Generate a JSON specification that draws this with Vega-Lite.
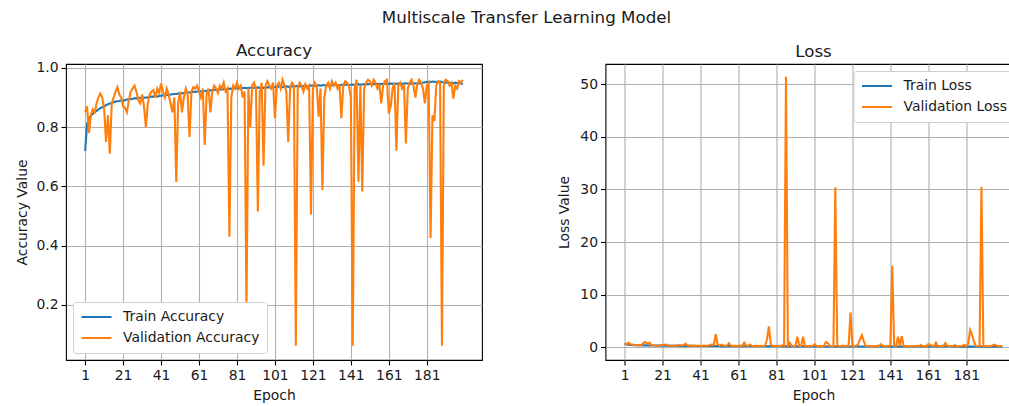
{
  "$schema": "https://vega.github.io/schema/vega-lite/v6.json",
  "background": "white",
  "padding": {"left": 14, "top": 10, "right": -13, "bottom": 0},
  "title": {"text": "Multiscale Transfer Learning Model", "fontSize": 16.7, "fontWeight": "normal", "anchor": "middle", "color": "#1a1a1a", "offset": 15, "dx": 8},
  "config": {
    "font": "DejaVu Sans",
    "view": {"stroke": "black", "strokeWidth": 1.1},
    "axis": {"grid": true, "gridColor": "#b0b0b0", "gridWidth": 1.1, "domain": false, "tickColor": "black", "tickSize": 5, "tickWidth": 1.1, "labelFontSize": 13.9, "labelColor": "#1a1a1a", "titleFontSize": 13.9, "titleFontWeight": "normal", "titleColor": "#1a1a1a", "labelPadding": 3, "labelFlush": false},
    "legend": {"symbolType": "stroke", "symbolStrokeWidth": 2.1, "symbolSize": 900, "clipHeight": 16, "labelFontSize": 13.9, "labelColor": "#1a1a1a", "strokeColor": "#d0d0d0", "fillColor": "white", "padding": 7, "cornerRadius": 3, "rowPadding": 5, "offset": 7, "labelOffset": 10, "labelLimit": 300, "title": null},
    "title": {"fontSize": 16.7, "fontWeight": "normal", "color": "#1a1a1a"},
    "line": {"strokeWidth": 2.1}
  },
  "data": {"values": [
{"e":1,"ta":0.72,"va":0.85,"tl":0.75,"vl":0.75},{"e":2,"ta":0.81,"va":0.87,"tl":0.55,"vl":0.6},{"e":3,"ta":0.83,"va":0.78,"tl":0.5,"vl":0.9},{"e":4,"ta":0.838,"va":0.84,"tl":0.47,"vl":0.6},{"e":5,"ta":0.845,"va":0.86,"tl":0.45,"vl":0.55},{"e":6,"ta":0.85,"va":0.85,"tl":0.43,"vl":0.5},{"e":7,"ta":0.855,"va":0.88,"tl":0.42,"vl":0.45},{"e":8,"ta":0.86,"va":0.9,"tl":0.41,"vl":0.4},{"e":9,"ta":0.864,"va":0.913,"tl":0.4,"vl":0.35},{"e":10,"ta":0.867,"va":0.9,"tl":0.39,"vl":0.45},
{"e":11,"ta":0.87,"va":0.86,"tl":0.38,"vl":0.9},{"e":12,"ta":0.874,"va":0.75,"tl":0.38,"vl":1.0},{"e":13,"ta":0.877,"va":0.84,"tl":0.37,"vl":0.7},{"e":14,"ta":0.88,"va":0.71,"tl":0.36,"vl":0.9},{"e":15,"ta":0.882,"va":0.88,"tl":0.36,"vl":0.5},{"e":16,"ta":0.884,"va":0.9,"tl":0.35,"vl":0.4},{"e":17,"ta":0.886,"va":0.92,"tl":0.35,"vl":0.3},{"e":18,"ta":0.887,"va":0.935,"tl":0.34,"vl":0.25},{"e":19,"ta":0.888,"va":0.91,"tl":0.34,"vl":0.35},{"e":20,"ta":0.89,"va":0.9,"tl":0.33,"vl":0.4},
{"e":21,"ta":0.889,"va":0.87,"tl":0.33,"vl":0.45},{"e":22,"ta":0.891,"va":0.865,"tl":0.32,"vl":0.5},{"e":23,"ta":0.893,"va":0.85,"tl":0.32,"vl":0.55},{"e":24,"ta":0.894,"va":0.89,"tl":0.31,"vl":0.4},{"e":25,"ta":0.894,"va":0.92,"tl":0.31,"vl":0.3},{"e":26,"ta":0.896,"va":0.93,"tl":0.31,"vl":0.3},{"e":27,"ta":0.897,"va":0.94,"tl":0.3,"vl":0.25},{"e":28,"ta":0.897,"va":0.92,"tl":0.3,"vl":0.35},{"e":29,"ta":0.898,"va":0.89,"tl":0.3,"vl":0.4},{"e":30,"ta":0.899,"va":0.88,"tl":0.29,"vl":0.45},
{"e":31,"ta":0.899,"va":0.91,"tl":0.29,"vl":0.35},{"e":32,"ta":0.9,"va":0.87,"tl":0.29,"vl":0.4},{"e":33,"ta":0.899,"va":0.8,"tl":0.29,"vl":0.7},{"e":34,"ta":0.901,"va":0.88,"tl":0.28,"vl":0.4},{"e":35,"ta":0.902,"va":0.91,"tl":0.28,"vl":0.3},{"e":36,"ta":0.903,"va":0.92,"tl":0.28,"vl":0.3},{"e":37,"ta":0.903,"va":0.925,"tl":0.28,"vl":0.28},{"e":38,"ta":0.904,"va":0.9,"tl":0.27,"vl":0.35},{"e":39,"ta":0.903,"va":0.93,"tl":0.27,"vl":0.3},{"e":40,"ta":0.905,"va":0.915,"tl":0.27,"vl":0.32},
{"e":41,"ta":0.906,"va":0.947,"tl":0.27,"vl":0.25},{"e":42,"ta":0.907,"va":0.92,"tl":0.26,"vl":0.3},{"e":43,"ta":0.908,"va":0.9,"tl":0.26,"vl":0.35},{"e":44,"ta":0.908,"va":0.93,"tl":0.26,"vl":0.3},{"e":45,"ta":0.909,"va":0.91,"tl":0.26,"vl":0.35},{"e":46,"ta":0.91,"va":0.88,"tl":0.26,"vl":0.45},{"e":47,"ta":0.911,"va":0.85,"tl":0.25,"vl":0.55},{"e":48,"ta":0.912,"va":0.9,"tl":0.25,"vl":0.5},{"e":49,"ta":0.912,"va":0.615,"tl":0.25,"vl":2.5},{"e":50,"ta":0.913,"va":0.88,"tl":0.25,"vl":0.6},
{"e":51,"ta":0.914,"va":0.92,"tl":0.25,"vl":0.3},{"e":52,"ta":0.914,"va":0.85,"tl":0.24,"vl":0.5},{"e":53,"ta":0.915,"va":0.9,"tl":0.24,"vl":0.35},{"e":54,"ta":0.916,"va":0.93,"tl":0.24,"vl":0.3},{"e":55,"ta":0.917,"va":0.91,"tl":0.24,"vl":0.35},{"e":56,"ta":0.917,"va":0.767,"tl":0.24,"vl":0.8},{"e":57,"ta":0.918,"va":0.92,"tl":0.23,"vl":0.3},{"e":58,"ta":0.919,"va":0.935,"tl":0.23,"vl":0.28},{"e":59,"ta":0.919,"va":0.93,"tl":0.23,"vl":0.3},{"e":60,"ta":0.92,"va":0.94,"tl":0.23,"vl":0.25},
{"e":61,"ta":0.92,"va":0.92,"tl":0.23,"vl":0.3},{"e":62,"ta":0.921,"va":0.9,"tl":0.23,"vl":0.35},{"e":63,"ta":0.922,"va":0.93,"tl":0.22,"vl":0.3},{"e":64,"ta":0.921,"va":0.74,"tl":0.22,"vl":0.9},{"e":65,"ta":0.923,"va":0.91,"tl":0.22,"vl":0.35},{"e":66,"ta":0.924,"va":0.93,"tl":0.22,"vl":0.3},{"e":67,"ta":0.924,"va":0.85,"tl":0.22,"vl":0.55},{"e":68,"ta":0.925,"va":0.92,"tl":0.22,"vl":0.3},{"e":69,"ta":0.925,"va":0.94,"tl":0.21,"vl":0.25},{"e":70,"ta":0.926,"va":0.93,"tl":0.21,"vl":0.28},
{"e":71,"ta":0.926,"va":0.915,"tl":0.21,"vl":0.3},{"e":72,"ta":0.927,"va":0.94,"tl":0.21,"vl":0.25},{"e":73,"ta":0.927,"va":0.93,"tl":0.21,"vl":0.28},{"e":74,"ta":0.928,"va":0.95,"tl":0.21,"vl":0.22},{"e":75,"ta":0.928,"va":0.92,"tl":0.21,"vl":0.35},{"e":76,"ta":0.929,"va":0.93,"tl":0.2,"vl":1.5},{"e":77,"ta":0.929,"va":0.43,"tl":0.2,"vl":4.0},{"e":78,"ta":0.93,"va":0.9,"tl":0.2,"vl":0.5},{"e":79,"ta":0.93,"va":0.94,"tl":0.2,"vl":0.25},{"e":80,"ta":0.931,"va":0.93,"tl":0.2,"vl":0.3},
{"e":81,"ta":0.931,"va":0.95,"tl":0.2,"vl":0.22},{"e":82,"ta":0.932,"va":0.93,"tl":0.2,"vl":0.28},{"e":83,"ta":0.93,"va":0.94,"tl":0.2,"vl":0.25},{"e":84,"ta":0.932,"va":0.9,"tl":0.2,"vl":0.4},{"e":85,"ta":0.933,"va":0.92,"tl":0.19,"vl":0.3},{"e":86,"ta":0.931,"va":0.18,"tl":0.19,"vl":51.4},{"e":87,"ta":0.932,"va":0.93,"tl":0.19,"vl":0.3},{"e":88,"ta":0.933,"va":0.8,"tl":0.19,"vl":0.9},{"e":89,"ta":0.934,"va":0.94,"tl":0.19,"vl":0.25},{"e":90,"ta":0.932,"va":0.95,"tl":0.19,"vl":0.22},
{"e":91,"ta":0.933,"va":0.93,"tl":0.19,"vl":0.3},{"e":92,"ta":0.934,"va":0.515,"tl":0.19,"vl":2.0},{"e":93,"ta":0.933,"va":0.92,"tl":0.19,"vl":0.3},{"e":94,"ta":0.934,"va":0.95,"tl":0.18,"vl":0.25},{"e":95,"ta":0.932,"va":0.67,"tl":0.18,"vl":2.0},{"e":96,"ta":0.934,"va":0.94,"tl":0.18,"vl":0.3},{"e":97,"ta":0.935,"va":0.955,"tl":0.18,"vl":0.22},{"e":98,"ta":0.934,"va":0.94,"tl":0.18,"vl":0.25},{"e":99,"ta":0.935,"va":0.93,"tl":0.18,"vl":0.3},{"e":100,"ta":0.936,"va":0.95,"tl":0.18,"vl":0.22},
{"e":101,"ta":0.935,"va":0.83,"tl":0.18,"vl":0.6},{"e":102,"ta":0.936,"va":0.94,"tl":0.18,"vl":0.25},{"e":103,"ta":0.936,"va":0.95,"tl":0.18,"vl":0.22},{"e":104,"ta":0.937,"va":0.93,"tl":0.18,"vl":0.3},{"e":105,"ta":0.935,"va":0.96,"tl":0.18,"vl":0.2},{"e":106,"ta":0.937,"va":0.94,"tl":0.17,"vl":0.25},{"e":107,"ta":0.938,"va":0.92,"tl":0.17,"vl":1.0},{"e":108,"ta":0.936,"va":0.75,"tl":0.17,"vl":0.8},{"e":109,"ta":0.937,"va":0.93,"tl":0.17,"vl":0.3},{"e":110,"ta":0.938,"va":0.95,"tl":0.17,"vl":0.22},
{"e":111,"ta":0.937,"va":0.94,"tl":0.17,"vl":0.25},{"e":112,"ta":0.938,"va":0.062,"tl":0.17,"vl":30.4},{"e":113,"ta":0.939,"va":0.93,"tl":0.17,"vl":0.3},{"e":114,"ta":0.937,"va":0.95,"tl":0.17,"vl":0.22},{"e":115,"ta":0.938,"va":0.94,"tl":0.17,"vl":0.25},{"e":116,"ta":0.939,"va":0.92,"tl":0.17,"vl":0.35},{"e":117,"ta":0.94,"va":0.945,"tl":0.17,"vl":0.25},{"e":118,"ta":0.938,"va":0.93,"tl":0.17,"vl":0.3},{"e":119,"ta":0.939,"va":0.94,"tl":0.17,"vl":0.25},{"e":120,"ta":0.94,"va":0.505,"tl":0.17,"vl":6.6},
{"e":121,"ta":0.94,"va":0.93,"tl":0.17,"vl":0.3},{"e":122,"ta":0.939,"va":0.95,"tl":0.17,"vl":0.22},{"e":123,"ta":0.94,"va":0.94,"tl":0.17,"vl":0.25},{"e":124,"ta":0.941,"va":0.835,"tl":0.17,"vl":0.6},{"e":125,"ta":0.94,"va":0.93,"tl":0.17,"vl":1.5},{"e":126,"ta":0.941,"va":0.588,"tl":0.16,"vl":2.3},{"e":127,"ta":0.942,"va":0.9,"tl":0.17,"vl":1.2},{"e":128,"ta":0.94,"va":0.94,"tl":0.16,"vl":0.3},{"e":129,"ta":0.941,"va":0.95,"tl":0.16,"vl":0.22},{"e":130,"ta":0.942,"va":0.93,"tl":0.16,"vl":0.3},
{"e":131,"ta":0.941,"va":0.955,"tl":0.16,"vl":0.2},{"e":132,"ta":0.942,"va":0.94,"tl":0.16,"vl":0.25},{"e":133,"ta":0.943,"va":0.95,"tl":0.16,"vl":0.22},{"e":134,"ta":0.941,"va":0.93,"tl":0.16,"vl":0.3},{"e":135,"ta":0.942,"va":0.945,"tl":0.16,"vl":0.25},{"e":136,"ta":0.943,"va":0.83,"tl":0.16,"vl":0.6},{"e":137,"ta":0.942,"va":0.94,"tl":0.16,"vl":0.25},{"e":138,"ta":0.943,"va":0.955,"tl":0.16,"vl":0.2},{"e":139,"ta":0.944,"va":0.95,"tl":0.16,"vl":0.22},{"e":140,"ta":0.942,"va":0.94,"tl":0.16,"vl":0.25},
{"e":141,"ta":0.943,"va":0.9,"tl":0.16,"vl":0.4},{"e":142,"ta":0.944,"va":0.062,"tl":0.16,"vl":15.5},{"e":143,"ta":0.943,"va":0.93,"tl":0.16,"vl":0.3},{"e":144,"ta":0.944,"va":0.96,"tl":0.16,"vl":0.2},{"e":145,"ta":0.945,"va":0.616,"tl":0.16,"vl":2.0},{"e":146,"ta":0.943,"va":0.94,"tl":0.16,"vl":0.3},{"e":147,"ta":0.944,"va":0.583,"tl":0.16,"vl":2.1},{"e":148,"ta":0.945,"va":0.93,"tl":0.16,"vl":0.3},{"e":149,"ta":0.944,"va":0.95,"tl":0.16,"vl":0.22},{"e":150,"ta":0.945,"va":0.96,"tl":0.16,"vl":0.2},
{"e":151,"ta":0.946,"va":0.955,"tl":0.16,"vl":0.22},{"e":152,"ta":0.944,"va":0.94,"tl":0.15,"vl":0.25},{"e":153,"ta":0.945,"va":0.96,"tl":0.16,"vl":0.2},{"e":154,"ta":0.946,"va":0.95,"tl":0.15,"vl":0.22},{"e":155,"ta":0.945,"va":0.93,"tl":0.15,"vl":0.3},{"e":156,"ta":0.946,"va":0.945,"tl":0.15,"vl":0.25},{"e":157,"ta":0.945,"va":0.88,"tl":0.15,"vl":0.45},{"e":158,"ta":0.946,"va":0.94,"tl":0.15,"vl":0.25},{"e":159,"ta":0.947,"va":0.955,"tl":0.15,"vl":0.22},{"e":160,"ta":0.946,"va":0.96,"tl":0.15,"vl":0.2},
{"e":161,"ta":0.946,"va":0.846,"tl":0.15,"vl":0.6},{"e":162,"ta":0.947,"va":0.87,"tl":0.15,"vl":0.5},{"e":163,"ta":0.946,"va":0.93,"tl":0.15,"vl":0.3},{"e":164,"ta":0.947,"va":0.95,"tl":0.15,"vl":0.22},{"e":165,"ta":0.946,"va":0.72,"tl":0.15,"vl":0.9},{"e":166,"ta":0.947,"va":0.94,"tl":0.15,"vl":0.25},{"e":167,"ta":0.948,"va":0.95,"tl":0.15,"vl":0.22},{"e":168,"ta":0.946,"va":0.93,"tl":0.15,"vl":0.3},{"e":169,"ta":0.947,"va":0.945,"tl":0.15,"vl":0.25},{"e":170,"ta":0.948,"va":0.745,"tl":0.15,"vl":0.8},
{"e":171,"ta":0.947,"va":0.93,"tl":0.15,"vl":0.3},{"e":172,"ta":0.946,"va":0.95,"tl":0.15,"vl":0.22},{"e":173,"ta":0.947,"va":0.96,"tl":0.15,"vl":0.2},{"e":174,"ta":0.948,"va":0.94,"tl":0.15,"vl":0.25},{"e":175,"ta":0.947,"va":0.9,"tl":0.15,"vl":0.4},{"e":176,"ta":0.948,"va":0.945,"tl":0.15,"vl":0.22},{"e":177,"ta":0.947,"va":0.96,"tl":0.15,"vl":0.2},{"e":178,"ta":0.949,"va":0.95,"tl":0.14,"vl":0.22},{"e":179,"ta":0.95,"va":0.93,"tl":0.14,"vl":0.3},{"e":180,"ta":0.951,"va":0.88,"tl":0.14,"vl":0.45},
{"e":181,"ta":0.952,"va":0.94,"tl":0.14,"vl":0.25},{"e":182,"ta":0.953,"va":0.95,"tl":0.14,"vl":0.6},{"e":183,"ta":0.952,"va":0.426,"tl":0.14,"vl":3.3},{"e":184,"ta":0.954,"va":0.84,"tl":0.14,"vl":2.4},{"e":185,"ta":0.953,"va":0.82,"tl":0.14,"vl":1.2},{"e":186,"ta":0.952,"va":0.94,"tl":0.14,"vl":0.25},{"e":187,"ta":0.953,"va":0.955,"tl":0.14,"vl":0.22},{"e":188,"ta":0.954,"va":0.95,"tl":0.14,"vl":0.25},{"e":189,"ta":0.952,"va":0.062,"tl":0.14,"vl":30.5},{"e":190,"ta":0.951,"va":0.95,"tl":0.14,"vl":0.22},
{"e":191,"ta":0.95,"va":0.96,"tl":0.14,"vl":0.2},{"e":192,"ta":0.951,"va":0.955,"tl":0.14,"vl":0.22},{"e":193,"ta":0.95,"va":0.94,"tl":0.14,"vl":0.25},{"e":194,"ta":0.949,"va":0.95,"tl":0.14,"vl":0.22},{"e":195,"ta":0.948,"va":0.896,"tl":0.14,"vl":0.4},{"e":196,"ta":0.95,"va":0.94,"tl":0.14,"vl":0.5},{"e":197,"ta":0.949,"va":0.93,"tl":0.14,"vl":0.3},{"e":198,"ta":0.948,"va":0.955,"tl":0.14,"vl":0.22},{"e":199,"ta":0.947,"va":0.95,"tl":0.14,"vl":0.25},{"e":200,"ta":0.946,"va":0.96,"tl":0.14,"vl":0.2}
  ]},
  "spacing": 123.5,
  "bounds": "flush",
  "resolve": {"scale": {"x": "independent", "y": "independent", "color": "independent"}, "legend": {"color": "independent"}},
  "hconcat": [
    {
      "title": {"text": "Accuracy", "offset": 1.5},
      "width": 416,
      "height": 296,
      "encoding": {
        "x": {"field": "e", "type": "quantitative", "scale": {"domain": [-9.1, 210.1], "nice": false, "zero": false}, "axis": {"values": [1,21,41,61,81,101,121,141,161,181], "title": "Epoch", "titlePadding": 7}}
      },
      "layer": [
        {"mark": {"type": "line", "clip": true}, "encoding": {
          "y": {"field": "ta", "type": "quantitative", "scale": {"domain": [0.014, 1.013], "nice": false, "zero": false}, "axis": {"values": [0.2,0.4,0.6,0.8,1.0], "format": ".1f", "title": "Accuracy Value", "titlePadding": 6.5}},
          "color": {"datum": "Train Accuracy", "type": "nominal", "scale": {"domain": ["Train Accuracy", "Validation Accuracy"], "range": ["#1f77b4", "#ff7f0e"]}, "legend": {"orient": "bottom-left"}}
        }},
        {"mark": {"type": "line", "clip": true}, "encoding": {
          "y": {"field": "va", "type": "quantitative"},
          "color": {"datum": "Validation Accuracy", "type": "nominal"}
        }}
      ]
    },
    {
      "title": {"text": "Loss", "offset": 3.5},
      "width": 416,
      "height": 296,
      "encoding": {
        "x": {"field": "e", "type": "quantitative", "scale": {"domain": [-9.1, 210.1], "nice": false, "zero": false}, "axis": {"values": [1,21,41,61,81,101,121,141,161,181], "title": "Epoch", "titlePadding": 7}}
      },
      "layer": [
        {"mark": {"type": "line", "clip": true}, "encoding": {
          "y": {"field": "tl", "type": "quantitative", "scale": {"domain": [-2.4, 53.8], "nice": false, "zero": false}, "axis": {"values": [0,10,20,30,40,50], "title": "Loss Value", "titlePadding": 8}},
          "color": {"datum": "Train Loss", "type": "nominal", "scale": {"domain": ["Train Loss", "Validation Loss"], "range": ["#1f77b4", "#ff7f0e"]}, "legend": {"orient": "top-right"}}
        }},
        {"mark": {"type": "line", "clip": true}, "encoding": {
          "y": {"field": "vl", "type": "quantitative"},
          "color": {"datum": "Validation Loss", "type": "nominal"}
        }}
      ]
    }
  ]
}
